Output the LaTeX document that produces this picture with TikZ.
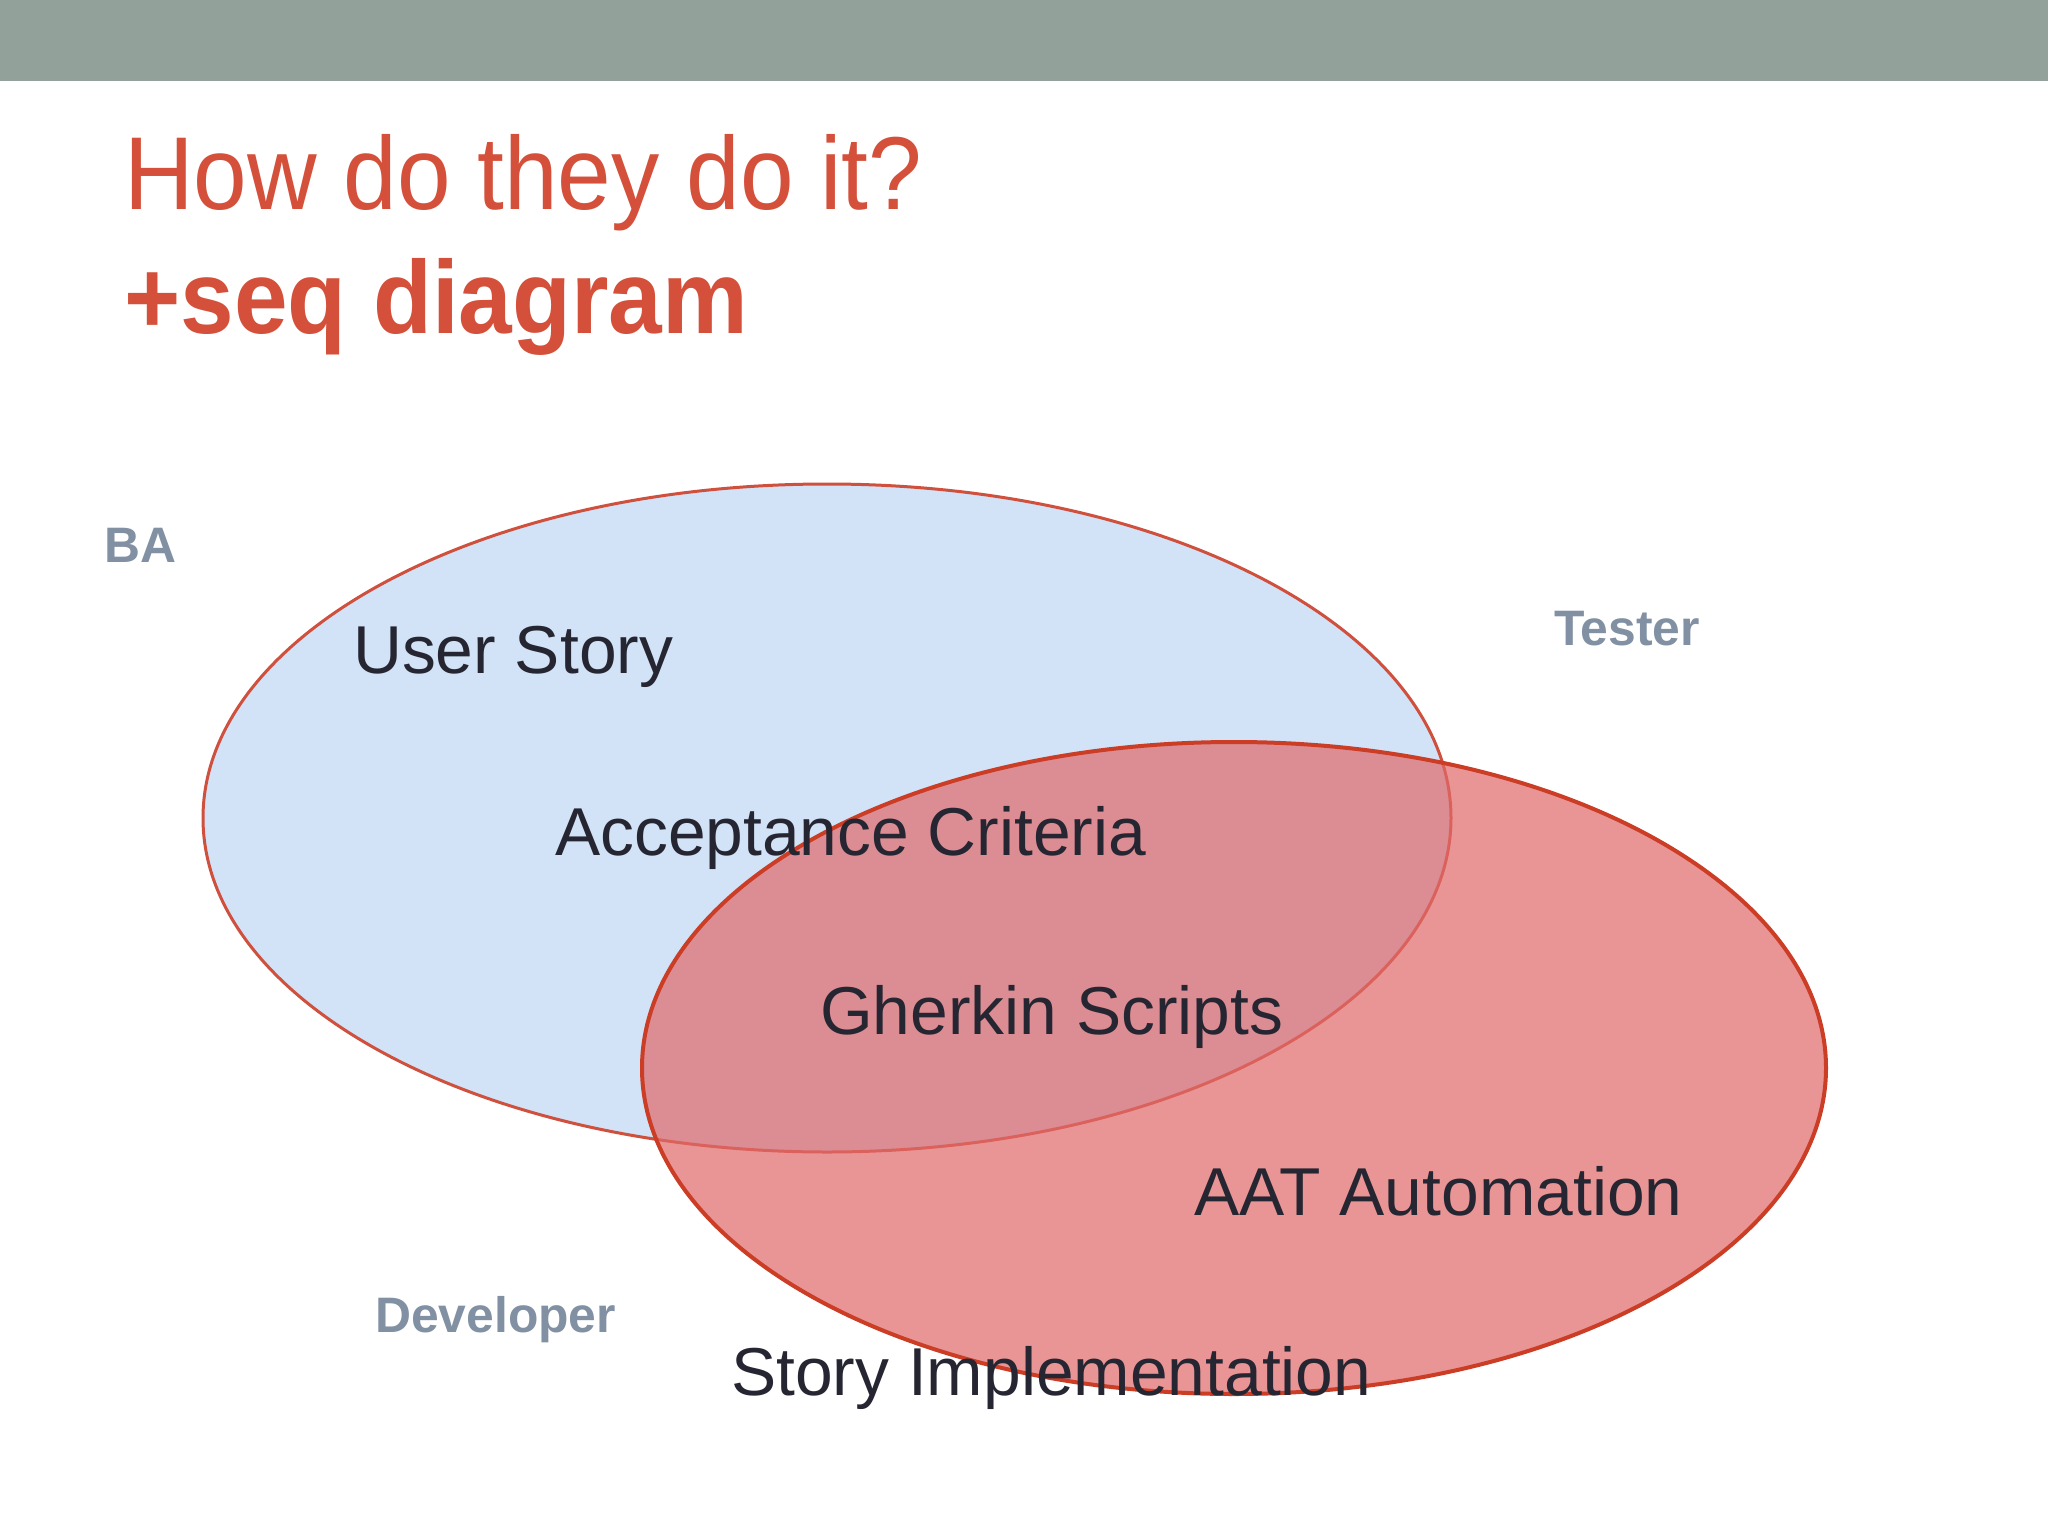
\documentclass[tikz,border=0pt]{standalone}
\usepackage{fontspec}
\setmainfont{Liberation Sans}
\newfontfamily\titlefont[FakeStretch=0.93]{Liberation Sans}
\definecolor{barcol}{RGB}{146,161,153}
\definecolor{titlecol}{RGB}{212,80,58}
\definecolor{rolecol}{RGB}{130,144,163}
\definecolor{bodycol}{RGB}{38,38,50}
\definecolor{bluefill}{RGB}{210,227,247}
\definecolor{blueedge}{RGB}{208,80,62}
\definecolor{redfill}{RGB}{224,105,105}
\definecolor{rededge}{RGB}{204,61,38}
\begin{document}
\begin{tikzpicture}[x=1bp,y=-1bp,
  titletext/.style={anchor=base west,inner sep=0,text=titlecol,font=\titlefont\fontsize{104}{110}\selectfont},
  roletext/.style={anchor=base west,inner sep=0,text=rolecol,font=\bfseries\fontsize{50}{56}\selectfont},
  bodytext/.style={anchor=base west,inner sep=0,text=bodycol,font=\fontsize{68}{76}\selectfont}]
\useasboundingbox (0,0) rectangle (2048,1536);
\fill[white] (0,0) rectangle (2048,1536);
\fill[barcol] (0,0) rectangle (2048,81);
\node[titletext] (t1) at (124,209) {How do they do it?};
\node[titletext,font=\titlefont\bfseries\fontsize{104}{110}\selectfont] (t2) at (124,333) {+seq diagram};
% ellipses
\filldraw[fill=bluefill,draw=blueedge,line width=3bp] (827,818) ellipse [x radius=624, y radius=334];
\fill[redfill,fill opacity=0.7] (1234,1068) ellipse [x radius=592, y radius=326];
\draw[rededge,line width=4bp] (1234,1068) ellipse [x radius=592, y radius=326];
% role labels
\node[roletext] (ba) at (104,562) {BA};
\node[roletext] (tester) at (1554,645) {Tester};
\node[roletext] (dev) at (375,1332) {Developer};
% body labels
\node[bodytext] (us) at (353,673) {User Story};
\node[bodytext] (ac) at (555,855) {Acceptance Criteria};
\node[bodytext] (gs) at (820,1034) {Gherkin Scripts};
\node[bodytext] (aat) at (1194,1215) {AAT Automation};
\node[bodytext] (si) at (731,1395) {Story Implementation};
\end{tikzpicture}
\end{document}
